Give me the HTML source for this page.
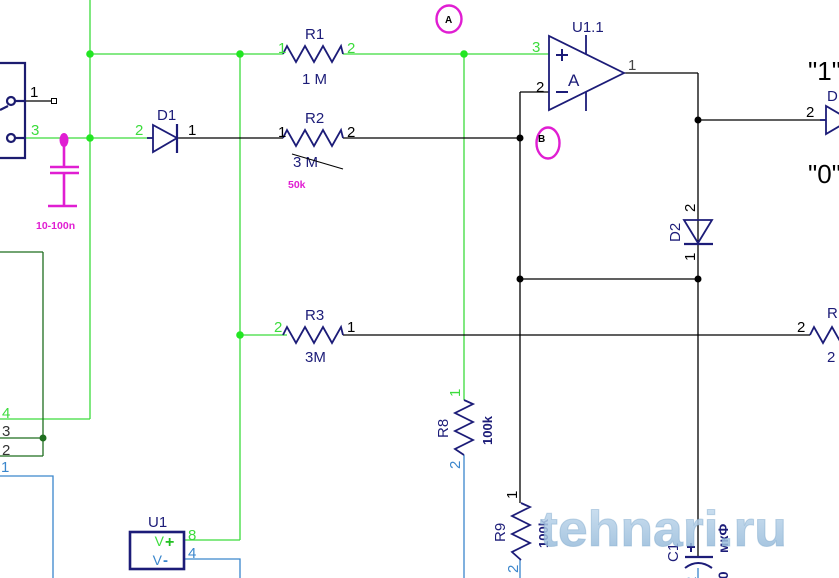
<!DOCTYPE html>
<html><head><meta charset="utf-8"><style>
html,body{margin:0;padding:0;background:#fff;}
svg{display:block;}
text{font-family:"Liberation Sans",sans-serif;}
</style></head><body>
<svg width="839" height="578" viewBox="0 0 839 578" xmlns="http://www.w3.org/2000/svg">
<defs>
<linearGradient id="wm" x1="0" y1="0" x2="0" y2="1">
<stop offset="0" stop-color="#c9def0"/>
<stop offset="1" stop-color="#8db4d6"/>
</linearGradient>
</defs>
<rect width="839" height="578" fill="#fff"/>
<g fill="none" stroke-width="1.3">
<g stroke="#3cdc3c">
<line x1="90" y1="0" x2="90" y2="419"/>
<line x1="0" y1="419" x2="90" y2="419"/>
<line x1="90" y1="54" x2="283" y2="54"/>
<line x1="343" y1="54" x2="549" y2="54"/>
<line x1="25" y1="138" x2="150" y2="138"/>
<line x1="240" y1="54" x2="240" y2="540"/>
<line x1="184" y1="540" x2="240" y2="540"/>
<line x1="240" y1="335" x2="287" y2="335"/>
<line x1="464" y1="54" x2="464" y2="400"/>
</g>
<g stroke="#000">
<line x1="25" y1="101" x2="52" y2="101"/>
<line x1="177" y1="138" x2="283" y2="138"/>
<line x1="343" y1="138" x2="520" y2="138"/>
<line x1="520" y1="92" x2="549" y2="92"/>
<line x1="520" y1="92" x2="520" y2="503"/>
<line x1="624" y1="73" x2="698" y2="73"/>
<line x1="698" y1="73" x2="698" y2="557"/>
<line x1="698" y1="120" x2="826" y2="120"/>
<line x1="520" y1="279" x2="698" y2="279"/>
<line x1="343" y1="335" x2="810" y2="335"/>
</g>
<g stroke="#1f6e1f">
<line x1="0" y1="252" x2="43" y2="252"/>
<line x1="43" y1="252" x2="43" y2="456"/>
<line x1="0" y1="438" x2="43" y2="438"/>
<line x1="0" y1="456" x2="43" y2="456"/>
</g>
<g stroke="#3a86cc">
<polyline points="0,476 53,476 53,578"/>
<polyline points="184,559 240,559 240,578"/>
<line x1="464" y1="455" x2="464" y2="578"/>
<line x1="520" y1="560" x2="520" y2="578"/>
<line x1="698" y1="568" x2="698" y2="578"/>
</g>
</g>
<rect x="51.5" y="98.5" width="5" height="5" fill="#fff" stroke="#000" stroke-width="1"/>
<g stroke="#1c1c70" stroke-width="2.2" fill="none">
<polyline points="-5,63 25,63 25,158 -5,158"/>
<line x1="15" y1="101" x2="25" y2="101"/>
<line x1="15" y1="138" x2="25" y2="138"/>
<circle cx="11" cy="101" r="4" fill="#fff"/>
<circle cx="11" cy="138" r="4" fill="#fff"/>
<line x1="0" y1="110" x2="8" y2="106"/>
</g>
<g stroke="#e01ed2" stroke-width="2.6" fill="none">
<line x1="64" y1="140" x2="64" y2="167"/>
<line x1="50" y1="167" x2="79" y2="167"/>
<line x1="50" y1="173" x2="79" y2="173"/>
<line x1="64" y1="173" x2="64" y2="206"/>
<line x1="48" y1="206" x2="77" y2="206"/>
</g>
<ellipse cx="64" cy="140" rx="4.5" ry="7" fill="#e01ed2"/>
<text x="36" y="229" font-size="10.5" font-weight="bold" fill="#e01ed2">10-100n</text>
<g fill="#22e622">
<circle cx="90" cy="54" r="3.8"/><circle cx="240" cy="54" r="3.8"/>
<circle cx="90" cy="138" r="3.8"/><circle cx="464" cy="54" r="3.8"/>
<circle cx="240" cy="335" r="3.8"/>
</g>
<circle cx="43" cy="438" r="3.5" fill="#1f6e1f"/>
<g fill="#000">
<circle cx="520" cy="138" r="3.5"/><circle cx="520" cy="279" r="3.5"/>
<circle cx="698" cy="279" r="3.5"/><circle cx="698" cy="120" r="3.5"/>
</g>
<g stroke="#1c1c78" stroke-width="1.8" fill="none">
<line x1="147" y1="138" x2="153" y2="138"/>
<polygon points="153,125 153,152 177,138"/>
<line x1="177" y1="124" x2="177" y2="153" stroke-width="2.2"/>
<polyline points="283,54 287,46 296,62 305,46 314,62 323,46 332,62 341,46 343,54"/>
<polyline points="283,138 287,130 296,146 305,130 314,146 323,130 332,146 341,130 343,138"/>
<polyline points="283,335 287,327 296,343 305,327 314,343 323,327 332,343 341,327 343,335"/>
<polyline points="810,335 814,327 823,343 832,327 841,343"/>
<polyline points="464,400 473,404 455,413 473,422 455,431 473,440 455,449 464,455"/>
<polyline points="521,503 530,507 512,516 530,525 512,534 530,543 512,552 521,560"/>
<polygon points="549,36 549,110 624,73"/>
<line x1="586" y1="35" x2="586" y2="54"/>
<line x1="586" y1="92" x2="586" y2="111"/>
<line x1="556" y1="55" x2="568" y2="55" stroke-width="2"/>
<line x1="562" y1="49" x2="562" y2="61" stroke-width="2"/>
<line x1="556" y1="92" x2="568" y2="92" stroke-width="2"/>
<polygon points="684,220 712,220 698,243"/>
<line x1="684" y1="244" x2="713" y2="244" stroke-width="2.2"/>
<line x1="820" y1="120" x2="826" y2="120"/>
<polygon points="826,106 826,134 850,120"/>
<line x1="685" y1="557" x2="713" y2="557" stroke-width="2.2"/>
<path d="M685,568 Q698,558 712,568" stroke-width="2"/>
<line x1="687" y1="547" x2="695" y2="547" stroke-width="2"/>
<line x1="691" y1="543" x2="691" y2="552" stroke-width="2"/>
<rect x="130" y="532" width="54" height="37" stroke-width="2.6"/>
</g>
<g stroke="#e01ed2" stroke-width="2.4" fill="none">
<ellipse cx="449" cy="19" rx="12.5" ry="13.5"/>
<ellipse cx="548" cy="143" rx="11.5" ry="15.5"/>
</g>
<text x="445" y="23" font-size="10" font-weight="bold" fill="#000">A</text>
<text x="538" y="142" font-size="10" font-weight="bold" fill="#000">B</text>
<g fill="#1c1c78" font-size="15">
<text x="157" y="120">D1</text>
<text x="305" y="39">R1</text>
<text x="302" y="84">1  M</text>
<text x="305" y="123">R2</text>
<text x="293" y="167">3  M</text>
<text x="305" y="320">R3</text>
<text x="305" y="362">3M</text>
<text x="572" y="32">U1.1</text>
<text x="568" y="86" font-size="17">A</text>
<text x="827" y="101">D</text>
<text x="827" y="318">R</text>
<text x="827" y="362">2</text>
<text x="148" y="527">U1</text>
<text transform="translate(448,438) rotate(-90)">R8</text>
<text transform="translate(492,445) rotate(-90)" font-weight="bold" font-size="13">100k</text>
<text transform="translate(505,542) rotate(-90)">R9</text>
<text transform="translate(548,548) rotate(-90)" font-weight="bold" font-size="13">100k</text>
<text transform="translate(680,242) rotate(-90)">D2</text>
<text transform="translate(678,562) rotate(-90)">C1</text>
<text transform="translate(728,587) rotate(-90)" font-weight="bold" font-size="14">10</text>
<text transform="translate(728,553) rotate(-90)" font-weight="bold" font-size="14">мкФ</text>
</g>
<line x1="292" y1="154" x2="343" y2="169" stroke="#000" stroke-width="1"/>
<text x="288" y="188" font-size="10.5" font-weight="bold" fill="#e01ed2">50k</text>
<g font-size="15">
<text x="30" y="97" fill="#000">1</text>
<text x="31" y="135" fill="#3cdc3c">3</text>
<text x="135" y="135" fill="#3cdc3c">2</text>
<text x="188" y="135" fill="#000">1</text>
<text x="278" y="53" fill="#3cdc3c">1</text>
<text x="347" y="53" fill="#3cdc3c">2</text>
<text x="278" y="137" fill="#000">1</text>
<text x="347" y="137" fill="#000">2</text>
<text x="274" y="332" fill="#3cdc3c">2</text>
<text x="347" y="332" fill="#000">1</text>
<text x="532" y="52" fill="#3cdc3c">3</text>
<text x="536" y="92" fill="#000">2</text>
<text x="628" y="70" fill="#444">1</text>
<text x="806" y="117" fill="#000">2</text>
<text x="797" y="332" fill="#000">2</text>
<text x="2" y="418" fill="#3cdc3c">4</text>
<text x="2" y="436" fill="#333">3</text>
<text x="2" y="455" fill="#333">2</text>
<text x="1" y="472" fill="#3a86cc">1</text>
<text x="188" y="540" fill="#3cdc3c">8</text>
<text x="188" y="558" fill="#3a86cc">4</text>
<text transform="translate(460,397) rotate(-90)" fill="#3cdc3c">1</text>
<text transform="translate(460,469) rotate(-90)" fill="#3a86cc">2</text>
<text transform="translate(517,499) rotate(-90)" fill="#000">1</text>
<text transform="translate(518,573) rotate(-90)" fill="#3a86cc">2</text>
<text transform="translate(695,212) rotate(-90)" fill="#000">2</text>
<text transform="translate(695,261) rotate(-90)" fill="#000">1</text>
<text transform="translate(696,585) rotate(-90)" fill="#3a86cc">2</text>
</g>
<text x="164" y="546" font-size="14" fill="#3cdc3c" text-anchor="end">V</text>
<text x="165" y="547" font-size="16" font-weight="bold" fill="#22c022">+</text>
<text x="162" y="565" font-size="14" fill="#3a86cc" text-anchor="end">V</text>
<text x="163" y="565" font-size="15" font-weight="bold" fill="#3a86cc">-</text>
<text x="808" y="80" font-size="26" fill="#000">"1"</text>
<text x="808" y="183" font-size="26" fill="#000">"0"</text>
<text x="540" y="546" font-size="50" font-weight="bold" fill="url(#wm)" fill-opacity="0.85" stroke="#7fa8cc" stroke-opacity="0.45" stroke-width="1" textLength="247" lengthAdjust="spacingAndGlyphs">tehnari.ru</text>
</svg>
</body></html>
